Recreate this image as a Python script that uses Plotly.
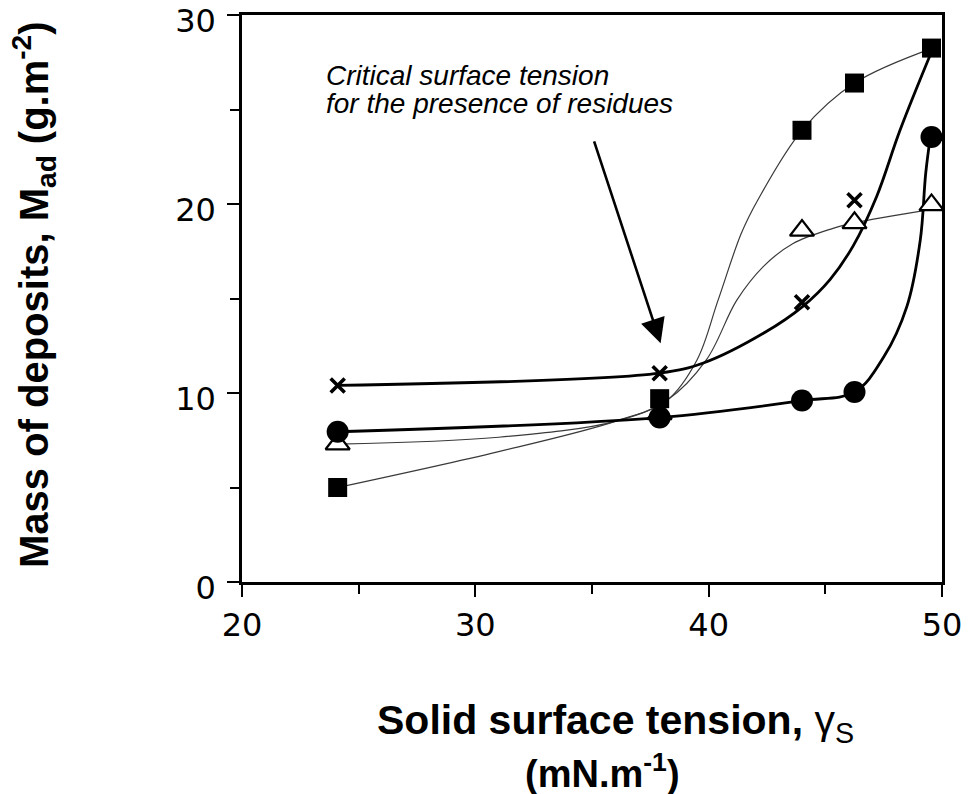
import plotly.graph_objects as go

# ---- data ----
gamma_s = [24.1, 37.9, 44.0, 46.25, 49.55]          # solid surface tension (mN/m)
m_square = [5.0, 9.7, 23.9, 26.4, 28.25]
m_circle = [7.95, 8.7, 9.6, 10.05, 23.55]
m_triangle = [7.3, 8.9, 18.6, 19.0, 19.95]
m_cross = [10.4, 11.05, 14.8, 20.2, 28.2]

# fitted curves as drawn in the figure
fit_square_x = [24.1, 31.0, 36.0, 38.2, 39.5, 40.4, 41.4, 42.1, 44.0, 46.25, 49.6]
fit_square_y = [5.0, 6.9, 8.5, 9.6, 11.75, 14.9, 18.45, 20.2, 23.9, 26.4, 28.25]
fit_triangle_x = [24.1, 31.0, 36.0, 38.2, 39.9, 41.2, 42.35, 43.6, 45.3, 46.25, 49.5]
fit_triangle_y = [7.3, 7.66, 8.5, 9.6, 11.75, 14.9, 16.7, 17.9, 18.7, 19.0, 19.7]
fit_cross_x = [24.1, 37.9, 39.8, 42.4, 44.05, 45.2, 46.2, 47.2, 48.2, 49.6]
fit_cross_y = [10.4, 11.05, 11.6, 13.2, 14.6, 16.0, 17.8, 20.4, 23.9, 28.2]
fit_circle_x = [24.1, 37.9, 44.0, 46.25, 47.5, 48.5, 49.07, 49.3, 49.5]
fit_circle_y = [7.95, 8.7, 9.6, 10.05, 11.9, 14.6, 18.1, 21.6, 23.55]

x_ticks = [20, 30, 40, 50]
y_ticks = [0, 10, 20, 30]

arrow_tip = (37.94, 12.63)
arrow_tail = (35.07, 23.39)

# ---- layout geometry ----
W, H = 968, 794
L, R, T, B = 242, 26, 15, 212
PW, PH = W - L - R, H - T - B


def px(x):
    return (x - L) / PW


def py(y):
    return (H - B - y) / PH


fig = go.Figure()

thin = dict(color="#3a3a3a", width=1.2, shape="spline", smoothing=1.0)
thick = dict(color="black", width=2.8, shape="spline", smoothing=1.0)

fig.add_trace(go.Scatter(x=fit_square_x, y=fit_square_y, mode="lines", line=thin, hoverinfo="skip"))
fig.add_trace(go.Scatter(x=fit_triangle_x, y=fit_triangle_y, mode="lines", line=thin, hoverinfo="skip"))
fig.add_trace(go.Scatter(x=fit_cross_x, y=fit_cross_y, mode="lines", line=thick, hoverinfo="skip"))
fig.add_trace(go.Scatter(x=fit_circle_x, y=fit_circle_y, mode="lines", line=thick, hoverinfo="skip"))

fig.add_trace(go.Scatter(x=gamma_s, y=m_triangle, mode="markers",
                         marker=dict(symbol="triangle-up", size=21, color="white",
                                     line=dict(color="black", width=2.2))))
fig.add_trace(go.Scatter(x=gamma_s, y=m_cross, mode="markers",
                         marker=dict(symbol="x-thin", size=14, color="black",
                                     line=dict(color="black", width=3.6))))
fig.add_trace(go.Scatter(x=gamma_s, y=m_square, mode="markers",
                         marker=dict(symbol="square", size=19, color="black",
                                     line=dict(width=0))))
fig.add_trace(go.Scatter(x=gamma_s, y=m_circle, mode="markers",
                         marker=dict(symbol="circle", size=22, color="black",
                                     line=dict(width=0))))

axis_common = dict(
    showgrid=False, zeroline=False, showline=True, linecolor="black", linewidth=2.5,
    mirror=True, ticks="outside", ticklen=12, tickwidth=2.2, tickcolor="black",
    automargin=False, ticklabeloverflow="allow",
    tickfont=dict(family="DejaVu Sans", size=32, color="black"),
)

fig.update_xaxes(range=[20, 50], tickvals=x_ticks, ticklabelstandoff=1,
                 minor=dict(dtick=5, tick0=20, ticks="outside", ticklen=9, tickwidth=2.2,
                            tickcolor="black"),
                 **axis_common)
fig.update_yaxes(range=[0, 30], tickvals=y_ticks, ticklabelstandoff=5, ticklabelshift=6,
                 minor=dict(dtick=5, tick0=0, ticks="outside", ticklen=9, tickwidth=2.2,
                            tickcolor="black"),
                 **axis_common)

annots = []
# explanation text
annots.append(dict(x=px(324), y=py(75), xref="paper", yref="paper", xanchor="left",
                   yanchor="middle", showarrow=False,
                   text="<i>Critical surface tension</i>",
                   font=dict(family="Liberation Sans", size=28, color="black")))
annots.append(dict(x=px(324), y=py(103), xref="paper", yref="paper", xanchor="left",
                   yanchor="middle", showarrow=False,
                   text="<i>for the presence of residues</i>",
                   font=dict(family="Liberation Sans", size=28, color="black")))
# arrow
annots.append(dict(x=arrow_tip[0], y=arrow_tip[1], ax=arrow_tail[0], ay=arrow_tail[1],
                   xref="x", yref="y", axref="x", ayref="y", text="", showarrow=True,
                   arrowhead=2, arrowsize=1.9, arrowwidth=2.6, arrowcolor="black"))
# axis titles
annots.append(dict(x=px(34), y=py(295), xref="paper", yref="paper", xanchor="center",
                   yanchor="middle", showarrow=False, textangle=-90,
                   text="<b>Mass of deposits, M<sub>ad</sub> (g.m<sup>-2</sup>)</b>",
                   font=dict(family="Liberation Sans", size=40, color="black")))
annots.append(dict(x=px(615), y=py(723), xref="paper", yref="paper", xanchor="center",
                   yanchor="middle", showarrow=False,
                   text="<b>Solid surface tension, </b>γ<sub>S</sub>",
                   font=dict(family="Liberation Sans", size=41, color="black")))
annots.append(dict(x=px(602), y=py(771), xref="paper", yref="paper", xanchor="center",
                   yanchor="middle", showarrow=False,
                   text="<b>(mN.m<sup>-1</sup>)</b>",
                   font=dict(family="Liberation Sans", size=38, color="black")))

fig.update_layout(
    width=W, height=H, margin=dict(l=L, r=R, t=T, b=B),
    paper_bgcolor="white", plot_bgcolor="white", showlegend=False,
    annotations=annots,
)

fig.write_html(
    "out.html",
    config={"displayModeBar": False},
    post_script="document.body.style.margin='0';document.body.style.overflow='hidden';",
)
